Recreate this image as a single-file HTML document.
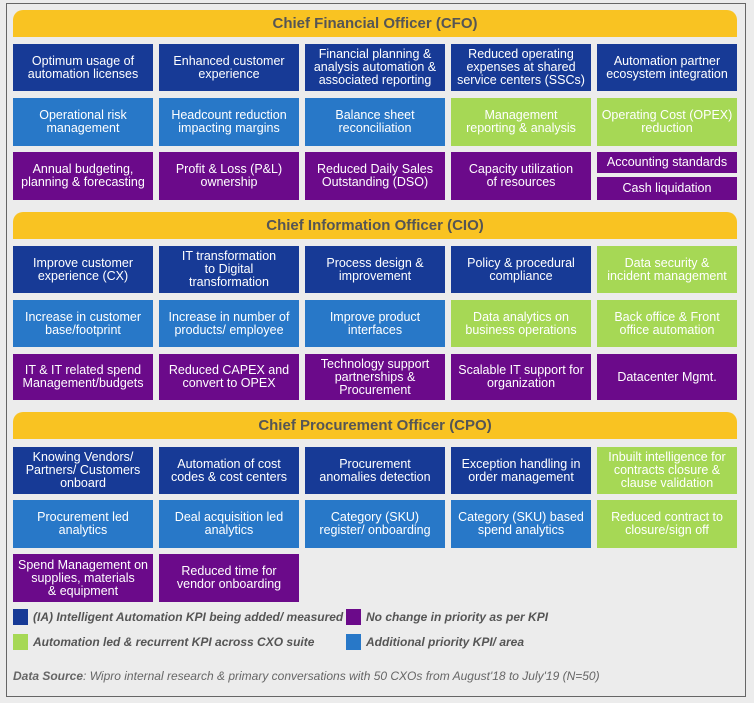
<!DOCTYPE html>
<html><head><meta charset="utf-8"><style>
body{margin:0;background:#ececec;width:754px;height:703px;position:relative;overflow:hidden;font-family:"Liberation Sans Narrow","Liberation Sans",sans-serif}
.frame{position:absolute;left:6px;top:3px;width:738px;height:692px;border:1px solid #666}
.h{position:absolute;left:13px;width:724px;height:27px;background:#f9c322;border-radius:10px 10px 0 0;color:#555;font-weight:bold;font-size:15px;text-align:center;line-height:27px;font-family:"Liberation Sans",sans-serif}
.b{position:absolute;width:140px;display:flex;align-items:center;justify-content:center;text-align:center;color:#fff;font-size:12.5px;line-height:13px}
.d{background:#173a96}.m{background:#2878c8}.p{background:#6b0a8a}.g{background:#a6d855}
.sq{position:absolute;width:15px;height:16px}
.lt{position:absolute;font-style:italic;font-weight:bold;color:#555;font-size:12px}
</style></head><body>
<div class="frame"></div>
<div class="h" style="top:10px">Chief Financial Officer (CFO)</div>
<div class="b d" style="left:13px;top:44px;height:47px">Optimum usage of<br>automation licenses</div>
<div class="b d" style="left:159px;top:44px;height:47px">Enhanced customer<br>experience</div>
<div class="b d" style="left:305px;top:44px;height:47px">Financial planning &amp;<br>analysis automation &amp;<br>associated reporting</div>
<div class="b d" style="left:451px;top:44px;height:47px">Reduced operating<br>expenses at shared<br>service centers (SSCs)</div>
<div class="b d" style="left:597px;top:44px;height:47px">Automation partner<br>ecosystem integration</div>
<div class="b m" style="left:13px;top:98px;height:48px">Operational risk<br>management</div>
<div class="b m" style="left:159px;top:98px;height:48px">Headcount reduction<br>impacting margins</div>
<div class="b m" style="left:305px;top:98px;height:48px">Balance sheet<br>reconciliation</div>
<div class="b g" style="left:451px;top:98px;height:48px">Management<br>reporting &amp; analysis</div>
<div class="b g" style="left:597px;top:98px;height:48px">Operating Cost (OPEX)<br>reduction</div>
<div class="b p" style="left:13px;top:152px;height:48px">Annual budgeting,<br>planning &amp; forecasting</div>
<div class="b p" style="left:159px;top:152px;height:48px">Profit &amp; Loss (P&amp;L)<br>ownership</div>
<div class="b p" style="left:305px;top:152px;height:48px">Reduced Daily Sales<br>Outstanding (DSO)</div>
<div class="b p" style="left:451px;top:152px;height:48px">Capacity utilization<br>of resources</div>
<div class="b p" style="left:597px;top:152px;height:21px">Accounting standards</div>
<div class="b p" style="left:597px;top:177px;height:23px">Cash liquidation</div>

<div class="h" style="top:212px">Chief Information Officer (CIO)</div>
<div class="b d" style="left:13px;top:246px;height:47px">Improve customer<br>experience (CX)</div>
<div class="b d" style="left:159px;top:246px;height:47px">IT transformation<br>to Digital<br>transformation</div>
<div class="b d" style="left:305px;top:246px;height:47px">Process design &amp;<br>improvement</div>
<div class="b d" style="left:451px;top:246px;height:47px">Policy &amp; procedural<br>compliance</div>
<div class="b g" style="left:597px;top:246px;height:47px">Data security &amp;<br>incident management</div>
<div class="b m" style="left:13px;top:300px;height:47px">Increase in customer<br>base/footprint</div>
<div class="b m" style="left:159px;top:300px;height:47px">Increase in number of<br>products/ employee</div>
<div class="b m" style="left:305px;top:300px;height:47px">Improve product<br>interfaces</div>
<div class="b g" style="left:451px;top:300px;height:47px">Data analytics on<br>business operations</div>
<div class="b g" style="left:597px;top:300px;height:47px">Back office &amp; Front<br>office automation</div>
<div class="b p" style="left:13px;top:354px;height:46px">IT &amp; IT related spend<br>Management/budgets</div>
<div class="b p" style="left:159px;top:354px;height:46px">Reduced CAPEX and<br>convert to OPEX</div>
<div class="b p" style="left:305px;top:354px;height:46px">Technology support<br>partnerships &amp;<br>Procurement</div>
<div class="b p" style="left:451px;top:354px;height:46px">Scalable IT support for<br>organization</div>
<div class="b p" style="left:597px;top:354px;height:46px">Datacenter Mgmt.</div>

<div class="h" style="top:412px">Chief Procurement Officer (CPO)</div>
<div class="b d" style="left:13px;top:447px;height:47px">Knowing Vendors/<br>Partners/ Customers<br>onboard</div>
<div class="b d" style="left:159px;top:447px;height:47px">Automation of cost<br>codes &amp; cost centers</div>
<div class="b d" style="left:305px;top:447px;height:47px">Procurement<br>anomalies detection</div>
<div class="b d" style="left:451px;top:447px;height:47px">Exception handling in<br>order management</div>
<div class="b g" style="left:597px;top:447px;height:47px">Inbuilt intelligence for<br>contracts closure &amp;<br>clause validation</div>
<div class="b m" style="left:13px;top:500px;height:48px">Procurement led<br>analytics</div>
<div class="b m" style="left:159px;top:500px;height:48px">Deal acquisition led<br>analytics</div>
<div class="b m" style="left:305px;top:500px;height:48px">Category (SKU)<br>register/ onboarding</div>
<div class="b m" style="left:451px;top:500px;height:48px">Category (SKU) based<br>spend analytics</div>
<div class="b g" style="left:597px;top:500px;height:48px">Reduced contract to<br>closure/sign off</div>
<div class="b p" style="left:13px;top:554px;height:48px">Spend Management on<br>supplies, materials<br>&amp; equipment</div>
<div class="b p" style="left:159px;top:554px;height:48px">Reduced time for<br>vendor onboarding</div>

<div class="sq d" style="left:13px;top:609px"></div>
<div class="lt" style="left:33px;top:610px">(IA) Intelligent Automation KPI being added/ measured</div>
<div class="sq p" style="left:346px;top:609px"></div>
<div class="lt" style="left:366px;top:610px">No change in priority as per KPI</div>
<div class="sq g" style="left:13px;top:634px"></div>
<div class="lt" style="left:33px;top:635px">Automation led &amp; recurrent KPI across CXO suite</div>
<div class="sq m" style="left:346px;top:634px"></div>
<div class="lt" style="left:366px;top:635px">Additional priority KPI/ area</div>
<div style="position:absolute;left:13px;top:669px;font-size:12px;font-style:italic;color:#666"><b>Data Source</b>: Wipro internal research &amp; primary conversations with 50 CXOs from August'18 to July'19 (N=50)</div>
</body></html>
